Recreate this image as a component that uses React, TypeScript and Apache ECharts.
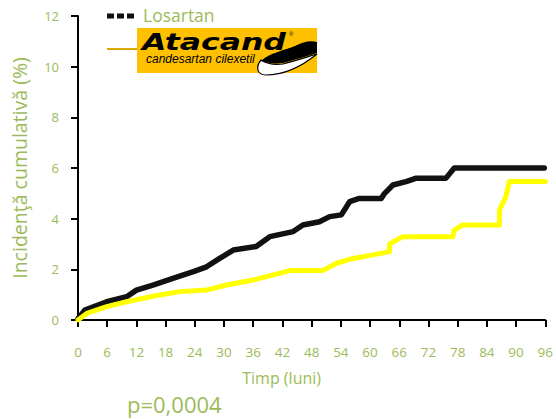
import React, { useEffect, useRef } from "react";
import * as echarts from "echarts";

const xTicks = [0, 6, 12, 18, 24, 30, 36, 42, 48, 54, 60, 66, 72, 78, 84, 90, 96];
const yTicks = [0, 2, 4, 6, 8, 10, 12];

const losartanMonths = [0, 1.4, 5.9, 10, 12, 15.4, 19.5, 23.7, 26.4, 29.1, 31.9, 36.6, 39.4, 44.2, 46.2, 49.6, 51.7, 54.1, 55.8, 57.8, 62.3, 63, 64.7, 67.4, 69.5, 75.6, 77.3, 95.8];
const losartanValues = [0.05, 0.39, 0.72, 0.92, 1.18, 1.38, 1.64, 1.91, 2.1, 2.43, 2.76, 2.9, 3.29, 3.49, 3.75, 3.88, 4.08, 4.15, 4.67, 4.8, 4.8, 5.0, 5.33, 5.46, 5.6, 5.6, 6.0, 6.0];

const atacandMonths = [0, 1.8, 5.9, 10, 13.4, 16.8, 20.9, 26.4, 30.5, 36, 40.1, 43.5, 50.3, 53.1, 56.5, 60.6, 64, 64, 66.7, 77, 77.3, 79, 86.6, 86.6, 87.9, 88.6, 96];
const atacandValues = [0, 0.26, 0.53, 0.72, 0.86, 0.99, 1.12, 1.18, 1.38, 1.58, 1.78, 1.95, 1.95, 2.24, 2.43, 2.57, 2.7, 3.0, 3.29, 3.29, 3.55, 3.75, 3.75, 4.34, 4.87, 5.47, 5.47];

const seriesNames = ["Losartan", "Atacand"];
const pValueText = "p=0,0004";
const yAxisName = "Incidenţă cumulativă (%)";
const xAxisName = "Timp (luni)";

const GREEN = "#9BBB59";
const FONT = "'Open Sans', 'Liberation Sans', sans-serif";

const wingPath =
  "M6 22 C14 14 28 12 40 7 C48 3 55 1 62 3 L62 14 C52 17 40 21 28 24 C20 25 12 24 6 22 Z";
const solePath =
  "M6 21 C1 27 1 36 11 36 C28 36 46 28 62 15 C52 18 40 22 28 25 C20 26 12 25 6 21 Z";

export default function App() {
  const ref = useRef<HTMLDivElement>(null);
  useEffect(() => {
    if (!ref.current) return;
    try {
      echarts.graphic.registerShape("wing", echarts.graphic.extendPath(wingPath, {}));
      echarts.graphic.registerShape("sole", echarts.graphic.extendPath(solePath, {}));
    } catch (e) {}
    const chart = echarts.init(ref.current, null, { renderer: "svg" });
    const lData = losartanMonths.map((m, i) => [m, losartanValues[i]]);
    const aData = atacandMonths.map((m, i) => [m, atacandValues[i]]);
    chart.setOption({
      animation: false,
      backgroundColor: "#ffffff",
      grid: { left: 78, right: 10, top: 16, bottom: 99, containLabel: false },
      xAxis: {
        type: "value",
        min: 0,
        max: 96,
        interval: 6,
        offset: 11,
        name: xAxisName,
        nameLocation: "middle",
        nameGap: 39,
        nameTextStyle: { color: GREEN, fontSize: 16, fontFamily: FONT, padding: [0, 60, 0, 0] },
        axisLine: { show: true, lineStyle: { color: "#000", width: 2 } },
        axisTick: { show: true, inside: false, length: 7, lineStyle: { color: "#000", width: 2 } },
        axisLabel: { color: GREEN, fontSize: 13.5, fontFamily: FONT, margin: 14 },
        splitLine: { show: false },
      },
      yAxis: {
        type: "value",
        min: 0,
        max: 12,
        interval: 2,
        offset: 4,
        name: yAxisName,
        nameLocation: "middle",
        nameGap: 45,
        nameRotate: 90,
        nameTextStyle: { color: GREEN, fontSize: 19.5, fontFamily: FONT },
        axisLine: { show: true, lineStyle: { color: "#000", width: 2 } },
        axisTick: { show: true, inside: false, length: 7, lineStyle: { color: "#000", width: 2 } },
        axisLabel: { color: GREEN, fontSize: 13, fontFamily: FONT, margin: 15 },
        splitLine: { show: false },
      },
      series: [
        {
          name: seriesNames[0],
          type: "line",
          data: lData,
          showSymbol: false,
          symbol: "none",
          lineStyle: { color: "#111111", width: 5.5, cap: "round", join: "round" },
          z: 2,
        },
        {
          name: seriesNames[1],
          type: "line",
          data: aData,
          showSymbol: false,
          symbol: "none",
          lineStyle: { color: "#FFFF00", width: 5, cap: "round", join: "round" },
          z: 3,
        },
      ],
      graphic: [
        {
          type: "line",
          shape: { x1: 107, y1: 16, x2: 134, y2: 16 },
          style: { stroke: "#111", lineWidth: 5, lineDash: [7, 3] },
        },
        {
          type: "text",
          x: 143,
          y: 15,
          style: {
            text: seriesNames[0],
            fill: GREEN,
            font: `17.5px ${FONT}`,
            verticalAlign: "middle",
          },
        },
        {
          type: "line",
          shape: { x1: 107, y1: 49, x2: 138, y2: 49 },
          style: { stroke: "#D9A800", lineWidth: 2 },
        },
        {
          type: "rect",
          shape: { x: 137, y: 28, width: 180, height: 45 },
          style: { fill: "#FFC000" },
        },
        {
          type: "text",
          x: 142,
          y: 42,
          scaleX: 1.37,
          style: {
            text: "Atacand",
            fill: "#000",
            font: "italic bold 23px 'DejaVu Sans', sans-serif",
            verticalAlign: "middle",
          },
        },
        {
          type: "text",
          x: 289,
          y: 34,
          style: { text: "®", fill: "#000", font: "6px sans-serif", verticalAlign: "middle" },
        },
        {
          type: "text",
          x: 146,
          y: 59,
          style: {
            text: "candesartan cilexetil",
            fill: "#000",
            font: "italic 12px 'Liberation Sans', Arial, sans-serif",
            verticalAlign: "middle",
          },
        },
        {
          type: "sole",
          x: 255,
          y: 39,
          style: { fill: "#fff", stroke: "#000", lineWidth: 1.2 },
        },
        {
          type: "wing",
          x: 255,
          y: 39,
          style: { fill: "#000" },
        },
        {
          type: "text",
          x: 127,
          y: 404,
          style: {
            text: pValueText,
            fill: GREEN,
            font: `22px ${FONT}`,
            verticalAlign: "middle",
          },
        },
      ],
    });
    return () => chart.dispose();
  }, []);
  return <div ref={ref} style={{ width: 556, height: 419, position: "absolute", left: 0, top: 0 }} />;
}
